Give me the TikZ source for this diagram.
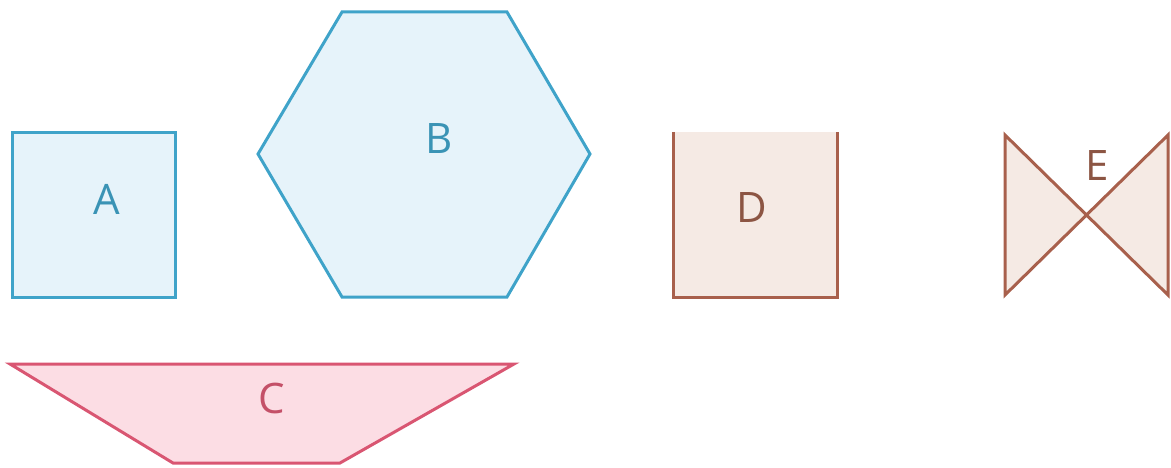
\documentclass[tikz,border=0pt]{standalone}
\usepackage{fontspec}
\setmainfont{Open Sans}
\definecolor{bluestroke}{HTML}{3FA3C9}
\definecolor{bluefill}{HTML}{E6F3FA}
\definecolor{bluetext}{HTML}{3A93B5}
\definecolor{pinkstroke}{HTML}{D95672}
\definecolor{pinkfill}{HTML}{FCDDE4}
\definecolor{pinktext}{HTML}{C45068}
\definecolor{brownstroke}{HTML}{A8604C}
\definecolor{brownfill}{HTML}{F5EAE4}
\definecolor{browntext}{HTML}{8C5543}
\begin{document}
\begin{tikzpicture}[x=1pt,y=-1pt,
  shapeline/.style={line width=3pt,line join=miter},
  lbl/.style={font=\fontsize{42}{42}\selectfont,inner sep=0pt}]
\useasboundingbox (0,0) rectangle (1171,468);
% A
\draw[shapeline,draw=bluestroke,fill=bluefill] (12,133) rectangle (175,297);
\node[lbl,text=bluetext] (a) at (107,199) {A};
% B
\draw[shapeline,draw=bluestroke,fill=bluefill] (342,12) -- (507,12) -- (590,154) -- (507,297) -- (342,297) -- (258,154) -- cycle;
\node[lbl,text=bluetext] (b) at (439,139) {B};
% C
\draw[shapeline,draw=pinkstroke,fill=pinkfill] (10,364) -- (514,364) -- (340,463) -- (173,463) -- cycle;
\node[lbl,text=pinktext] (c) at (272,398) {C};
% D
\fill[brownfill] (673,132) rectangle (837,297);
\draw[shapeline,draw=brownstroke] (673,132) -- (673,297) -- (837,297) -- (837,132);
\node[lbl,text=browntext] (d) at (752,208) {D};
% E
\coordinate (x) at (1086.5,215);
\fill[brownfill] (1005,135) -- (x) -- (1005,295) -- cycle;
\fill[brownfill] (1168,135) -- (x) -- (1168,295) -- cycle;
\draw[shapeline,draw=brownstroke] (1005,135) -- (1168,295) -- (1168,135) -- (1005,295) -- cycle;
\node[lbl,text=browntext] (e) at (1097,166) {E};
\end{tikzpicture}
\end{document}
